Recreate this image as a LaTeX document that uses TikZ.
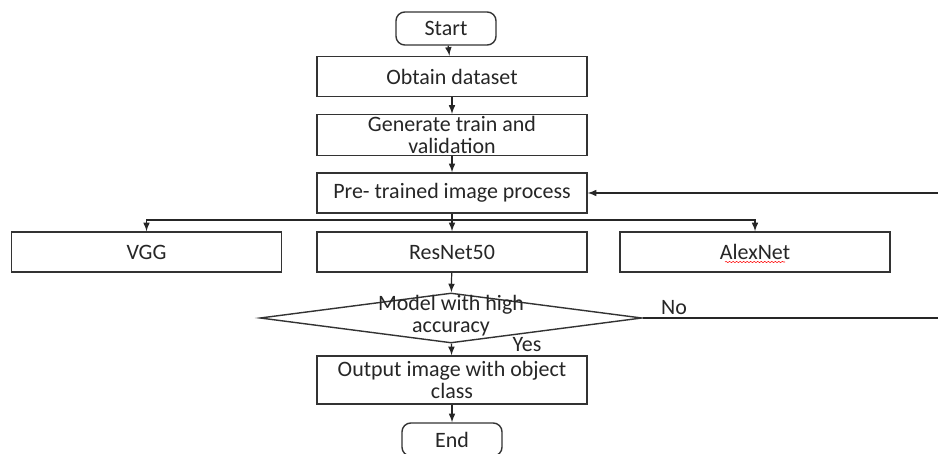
\documentclass[tikz,border=0pt]{standalone}
\usepackage{fontspec}
\setmainfont{Carlito}
\usepackage{tikz}
\usetikzlibrary{calc}
\usetikzlibrary{arrows.meta}
\usetikzlibrary{shapes.geometric}
\usetikzlibrary{decorations.pathmorphing}
\tikzset{>=latex}
\tikzset{
    block/.style={draw=black!80, line width=0.8pt, minimum width=5.4cm, minimum height=0.8cm,
        align=center, inner sep=1pt, font=\fontsize{12.5}{12.5}\selectfont, text=black!85},
    terminal/.style={block, rounded corners=5pt, minimum width=2cm, minimum height=0.66cm},
    decision/.style={diamond, draw=black!80, line width=0.8pt, inner sep=0pt,
        minimum width=7.64cm, minimum height=1cm},
    tag/.style={font=\fontsize{12.5}{12.5}\selectfont, text=black!85, align=center, inner sep=0pt},
    flow/.style={->, draw=black!85, line width=0.7pt},
}

\begin{document}
\begin{tikzpicture}
    \useasboundingbox (0,0) rectangle (18.76,9.06);

    \node[terminal] (start) at (8.92,8.49) {Start};
    \node[block] (obtain) at (9.04,7.53) {Obtain dataset};
    \node[block] (split) at (9.04,6.36) {Generate train and\\validation};
    \node[block] (pretrained) at (9.04,5.2) {Pre- trained image process};

    \node[block] (vgg) at (2.93,4.02) {VGG};
    \node[block] (resnet) at (9.04,4.02) {ResNet50};
    \node[block] (alexnet) at (15.1,4.02) {AlexNet};

    \node[decision] (check) at (9.02,2.7) {};
    \node[tag] (checktext) at (9.02,2.74) {Model with high\\accuracy};
    \node[tag] (yes) at (10.54,2.16) {Yes};
    \node[tag] (no) at (13.48,2.9) {No};

    \node[block, minimum height=0.96cm] (output) at (9.04,1.46) {Output image with object\\class};
    \node[terminal] (stop) at (9.04,0.27) {End};

    \coordinate (fork) at (9.04,4.66);
    \coordinate (loop) at (19.4,2.7);

    \draw[flow] (start) -- (obtain);
    \draw[flow] (obtain) -- (split);
    \draw[flow] (split) -- (pretrained);
    \draw[draw=black!85, line width=0.7pt] (pretrained) -- (fork);
    \draw[flow] (fork) -| (vgg);
    \draw[flow] (fork) -- (resnet);
    \draw[flow] (fork) -| (alexnet);
    \draw[flow] (resnet) -- (check);
    \draw[flow] (check) -- (output);
    \draw[flow] (output) -- (stop);
    \draw[flow] (check.east) -- (loop) |- (pretrained.east);

    \draw[red, line width=0.3pt, decorate, decoration={snake, amplitude=0.35pt, segment length=2pt}]
        ($(alexnet.center)+(-0.6,-0.2)$) -- ++(1.2,0);
\end{tikzpicture}
\end{document}
